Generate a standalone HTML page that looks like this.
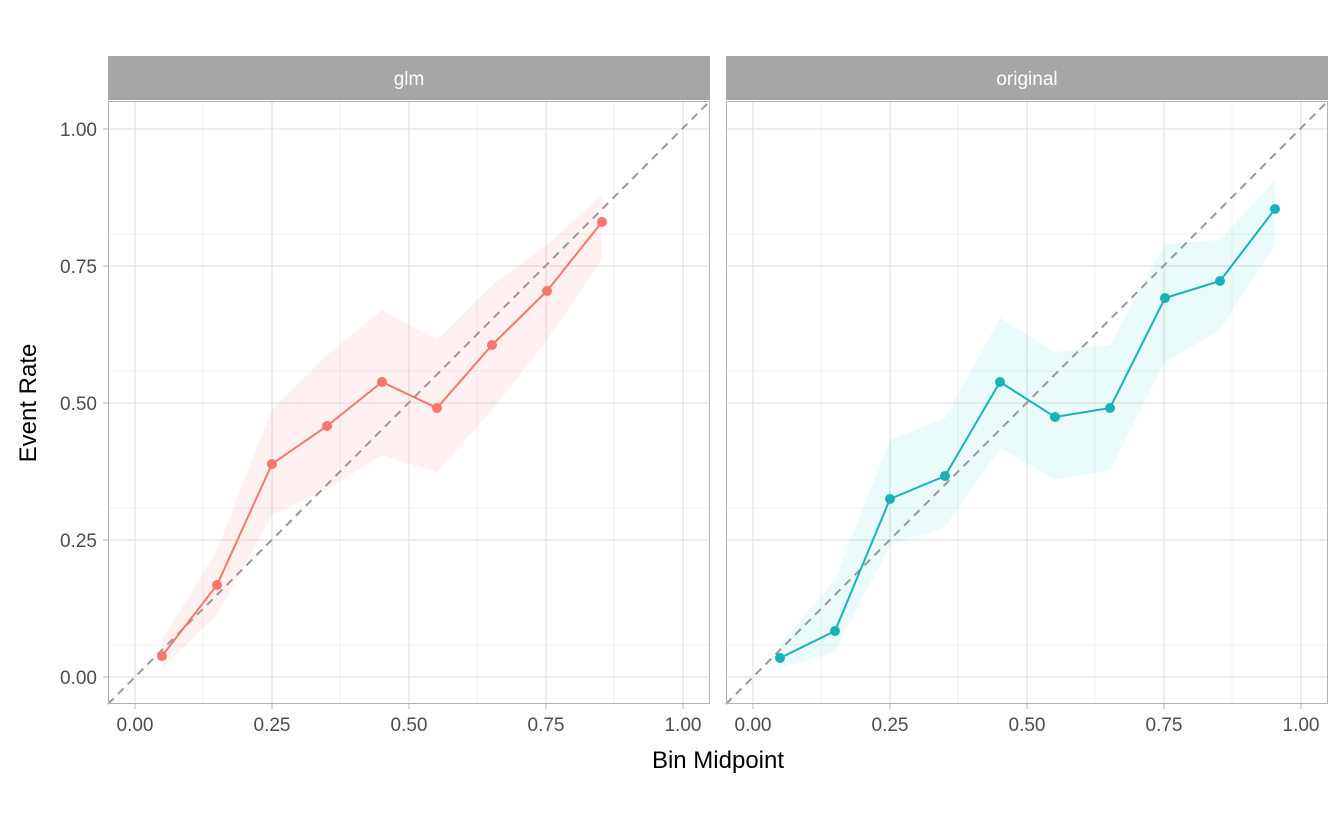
<!DOCTYPE html>
<html><head><style>body{margin:0;background:#fff}</style></head><body>
<svg width="1344" height="830" xmlns="http://www.w3.org/2000/svg" font-family="Liberation Sans, sans-serif">
<defs>
<g id="grid">
<g stroke="#f0f0f0" stroke-width="1">
<line x1="0" x2="602" y1="544" y2="544"/><line x1="0" x2="602" y1="407" y2="407"/><line x1="0" x2="602" y1="270" y2="270"/><line x1="0" x2="602" y1="133" y2="133"/>
<line y1="0" y2="603" x1="95" x2="95"/><line y1="0" y2="603" x1="232" x2="232"/><line y1="0" y2="603" x1="369" x2="369"/><line y1="0" y2="603" x1="506" x2="506"/>
</g>
<g stroke="#dedede" stroke-width="1.1">
<line x1="0" x2="602" y1="576" y2="576"/><line x1="0" x2="602" y1="439" y2="439"/><line x1="0" x2="602" y1="302" y2="302"/><line x1="0" x2="602" y1="165" y2="165"/><line x1="0" x2="602" y1="28" y2="28"/>
<line y1="0" y2="603" x1="27" x2="27"/><line y1="0" y2="603" x1="164" x2="164"/><line y1="0" y2="603" x1="301" x2="301"/><line y1="0" y2="603" x1="438" x2="438"/><line y1="0" y2="603" x1="575" x2="575"/>
</g>
</g>
</defs>
<rect x="108" y="56" width="602" height="44" fill="#a6a6a6"/>
<rect x="726" y="56" width="602" height="44" fill="#a6a6a6"/>
<text x="409" y="85" fill="#fff" font-size="19" text-anchor="middle">glm</text>
<text x="1027" y="85" fill="#fff" font-size="19" text-anchor="middle">original</text>
<use href="#grid" x="108" y="101"/>
<use href="#grid" x="726" y="101"/>
<polygon fill="#f8766d" fill-opacity="0.1" points="162,640 217,550 272,410 327,355 382,310 437,340 492,285 547,245 602,195 602,260 547,340 492,410 437,472 382,455 327,490 272,515 217,615 162,668"/>
<polygon fill="#00bfc4" fill-opacity="0.08" points="780,645 835,580 890,440 945,418 1000,318 1055,352 1110,345 1165,244 1220,240 1275,180 1275,245 1220,330 1165,362 1110,470 1055,480 1000,448 945,527 890,545 835,652 780,668"/>
<line x1="108" y1="704" x2="710" y2="101" stroke="#999" stroke-width="2" stroke-dasharray="8,6"/>
<line x1="726" y1="704" x2="1328" y2="101" stroke="#999" stroke-width="2" stroke-dasharray="8,6"/>
<g stroke="#f8766d" stroke-width="2" fill="#f8766d">
<polyline fill="none" points="162,656 217,585 272,464 327,426 382,382 437,408 492,345 547,291 602,222"/>
<circle cx="162" cy="656" r="5" stroke="none"/><circle cx="217" cy="585" r="5" stroke="none"/><circle cx="272" cy="464" r="5" stroke="none"/><circle cx="327" cy="426" r="5" stroke="none"/><circle cx="382" cy="382" r="5" stroke="none"/><circle cx="437" cy="408" r="5" stroke="none"/><circle cx="492" cy="345" r="5" stroke="none"/><circle cx="547" cy="291" r="5" stroke="none"/><circle cx="602" cy="222" r="5" stroke="none"/>
</g>
<g stroke="#17b3b8" stroke-width="2" fill="#17b3b8">
<polyline fill="none" points="780,658 835,631 890,499 945,476 1000,382 1055,417 1110,408 1165,298 1220,281 1275,209"/>
<circle cx="780" cy="658" r="5" stroke="none"/><circle cx="835" cy="631" r="5" stroke="none"/><circle cx="890" cy="499" r="5" stroke="none"/><circle cx="945" cy="476" r="5" stroke="none"/><circle cx="1000" cy="382" r="5" stroke="none"/><circle cx="1055" cy="417" r="5" stroke="none"/><circle cx="1110" cy="408" r="5" stroke="none"/><circle cx="1165" cy="298" r="5" stroke="none"/><circle cx="1220" cy="281" r="5" stroke="none"/><circle cx="1275" cy="209" r="5" stroke="none"/>
</g>
<rect x="108.5" y="101.5" width="601" height="602" fill="none" stroke="#b3b3b3" stroke-width="1"/>
<rect x="726.5" y="101.5" width="601" height="602" fill="none" stroke="#b3b3b3" stroke-width="1"/>
<g stroke="#b3b3b3" stroke-width="1">
<line x1="103" x2="108" y1="677" y2="677"/><line x1="103" x2="108" y1="540" y2="540"/><line x1="103" x2="108" y1="403" y2="403"/><line x1="103" x2="108" y1="266" y2="266"/><line x1="103" x2="108" y1="129" y2="129"/>
<line y1="704" y2="709" x1="135" x2="135"/><line y1="704" y2="709" x1="272" x2="272"/><line y1="704" y2="709" x1="409" x2="409"/><line y1="704" y2="709" x1="546" x2="546"/><line y1="704" y2="709" x1="683" x2="683"/>
<line y1="704" y2="709" x1="753" x2="753"/><line y1="704" y2="709" x1="890" x2="890"/><line y1="704" y2="709" x1="1027" x2="1027"/><line y1="704" y2="709" x1="1164" x2="1164"/><line y1="704" y2="709" x1="1301" x2="1301"/>
</g>
<g fill="#4d4d4d" font-size="19" text-anchor="end">
<text x="97" y="684">0.00</text><text x="97" y="547">0.25</text><text x="97" y="410">0.50</text><text x="97" y="273">0.75</text><text x="97" y="136">1.00</text>
</g>
<g fill="#4d4d4d" font-size="19" text-anchor="middle">
<text x="135" y="731">0.00</text><text x="272" y="731">0.25</text><text x="409" y="731">0.50</text><text x="546" y="731">0.75</text><text x="683" y="731">1.00</text>
<text x="753" y="731">0.00</text><text x="890" y="731">0.25</text><text x="1027" y="731">0.50</text><text x="1164" y="731">0.75</text><text x="1301" y="731">1.00</text>
</g>
<text x="718" y="768" font-size="24" text-anchor="middle" fill="#000">Bin Midpoint</text>
<text transform="translate(36,403) rotate(-90)" font-size="24" text-anchor="middle" fill="#000">Event Rate</text>
</svg>
</body></html>
